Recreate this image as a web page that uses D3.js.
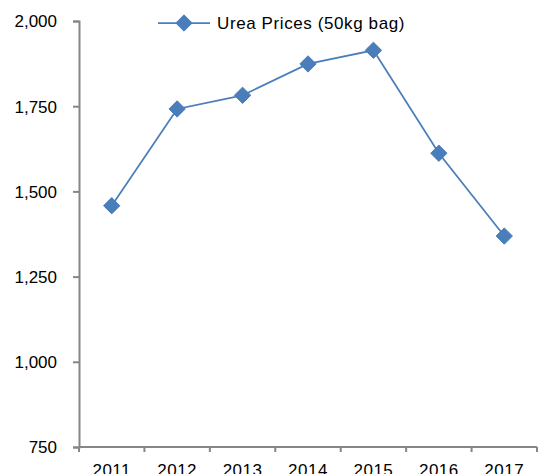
<!DOCTYPE html>
<html>
<head>
<meta charset="utf-8">
<script src="https://cdn.jsdelivr.net/npm/d3@7"></script>
<style>
body { margin:0; background:#fff; }
text { font-family: "Liberation Sans", Arial, sans-serif; fill:#000; }
</style>
</head>
<body>
<div id="chart"></div>
<script>
var years = ["2011","2012","2013","2014","2015","2016","2017"];
var prices = [1458, 1742, 1782, 1874, 1914, 1612, 1369];
var yTicks = [750, 1000, 1250, 1500, 1750, 2000];
var seriesName = "Urea Prices (50kg bag)";

var margin = {top: 21, right: 1, bottom: 27, left: 79},
    width = 538 - margin.left - margin.right,
    height = 474 - margin.top - margin.bottom;

var svg = d3.select("#chart").append("svg")
    .attr("width", 538)
    .attr("height", 474)
  .append("g")
    .attr("transform", "translate(" + margin.left + "," + margin.top + ")");

var x = d3.scaleBand().domain(years).range([0, width]);
var y = d3.scaleLinear().domain([750, 2000]).range([height, 0]);

var color = "#4a7ebb";
var axisColor = "#868686";

// y axis
var yAxis = svg.append("g")
    .call(d3.axisLeft(y).tickValues(yTicks).tickSize(6).tickPadding(16).tickFormat(d3.format(",")));
yAxis.select(".domain").attr("stroke", axisColor).attr("stroke-width", 2);
yAxis.selectAll(".tick line").attr("stroke", axisColor).attr("stroke-width", 2);
yAxis.selectAll("text").style("font-size", "17px").attr("dy", "0.35em");

// x axis, ticks on band edges
var xAxis = svg.append("g")
    .attr("transform", "translate(0," + height + ")");
xAxis.append("line")
    .attr("x1", 0).attr("x2", width)
    .attr("stroke", axisColor).attr("stroke-width", 2);
xAxis.selectAll(".edge")
    .data(years.concat(["end"]))
    .enter().append("line")
    .attr("x1", function(d, i) { return i * x.step(); })
    .attr("x2", function(d, i) { return i * x.step(); })
    .attr("y1", 0).attr("y2", 5)
    .attr("stroke", axisColor).attr("stroke-width", 2);
xAxis.selectAll(".lab")
    .data(years)
    .enter().append("text")
    .attr("x", function(d) { return x(d) + x.bandwidth() / 2; })
    .attr("y", 29)
    .attr("text-anchor", "middle")
    .style("font-size", "17px")
    .style("letter-spacing", "0.5px")
    .text(function(d) { return d; });

// line
var line = d3.line()
    .x(function(d, i) { return x(years[i]) + x.bandwidth() / 2; })
    .y(function(d) { return y(d); });

svg.append("path")
    .datum(prices)
    .attr("fill", "none")
    .attr("stroke", color)
    .attr("stroke-width", 1.75)
    .attr("d", line);

var diamond = d3.symbol().type(d3.symbolDiamond2).size(170);

svg.selectAll(".pt")
    .data(prices)
    .enter().append("path")
    .attr("class", "pt")
    .attr("d", diamond)
    .attr("fill", color)
    .attr("stroke", color)
    .attr("stroke-width", 1)
    .attr("stroke-linejoin", "round")
    .attr("transform", function(d, i) {
      return "translate(" + (x(years[i]) + x.bandwidth() / 2) + "," + y(d) + ")";
    });

// legend
var leg = svg.append("g").attr("transform", "translate(79,2)");
leg.append("line")
    .attr("x1", 0).attr("x2", 52)
    .attr("stroke", color).attr("stroke-width", 1.75);
leg.append("path")
    .attr("d", diamond)
    .attr("fill", color)
    .attr("stroke", color)
    .attr("stroke-width", 1)
    .attr("stroke-linejoin", "round")
    .attr("transform", "translate(26,0)");
leg.append("text")
    .attr("x", 59).attr("dy", "0.35em")
    .style("font-size", "17px")
    .style("letter-spacing", "0.6px")
    .text(seriesName);
</script>
</body>
</html>
